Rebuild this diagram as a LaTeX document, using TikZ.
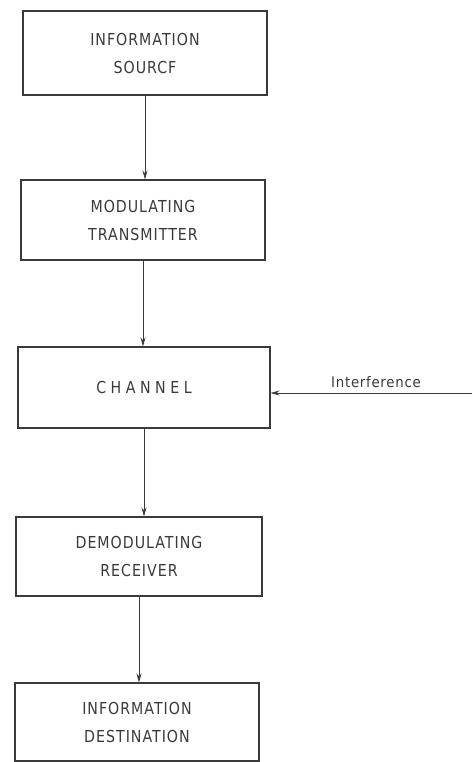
\documentclass[tikz,border=0pt]{standalone}
\usepackage{fontspec}
\newfontfamily\blockfont[LetterSpace=6,FakeStretch=0.86]{DejaVu Sans}
\newfontfamily\notefont[LetterSpace=5,FakeStretch=0.92]{DejaVu Sans}
\usetikzlibrary{arrows.meta}
\definecolor{ink}{HTML}{3A3A3A}
\begin{document}
\begin{tikzpicture}[x=1pt,y=-1pt,
  block/.style={draw=ink,line width=1.1pt,inner sep=0pt,align=center,
    text=ink,font=\blockfont\fontsize{16.5}{28}\selectfont},
  flow/.style={draw=ink,line width=0.8pt,
    -{Stealth[length=9pt,width=5pt]}},
  note/.style={text=ink,font=\notefont\fontsize{14.5}{16}\selectfont}]
\useasboundingbox (0,0) rectangle (472,762);

\node[block,minimum width=244pt,minimum height=84pt] (src) at (145,53)
  {INFORMATION\\SOURCF};
\node[block,minimum width=244pt,minimum height=80pt] (tx) at (143,220)
  {MODULATING\\TRANSMITTER};
\node[block,minimum width=252pt,minimum height=81pt] (chan) at (144,387.5)
  {C\hspace{4.5pt}H\hspace{4.5pt}A\hspace{4.5pt}N\hspace{4.5pt}N\hspace{4.5pt}E\hspace{4.5pt}L};
\node[block,minimum width=246pt,minimum height=79pt] (rx) at (139,556.5)
  {DEMODULATING\\RECEIVER};
\node[block,minimum width=244pt,minimum height=78pt] (dst) at (137,722)
  {INFORMATION\\DESTINATION};

\draw[flow] (src.south) -- (src.south |- tx.north);
\draw[flow] (tx.south) -- (tx.south |- chan.north);
\draw[flow] (chan.south) -- (chan.south |- rx.north);
\draw[flow] (rx.south) -- (rx.south |- dst.north);

\coordinate (noise) at (472,393);
\draw[flow] (noise) -- (noise -| chan.east);
\node[note,anchor=south] (noiselbl) at (376,391) {Interference};
\end{tikzpicture}
\end{document}
